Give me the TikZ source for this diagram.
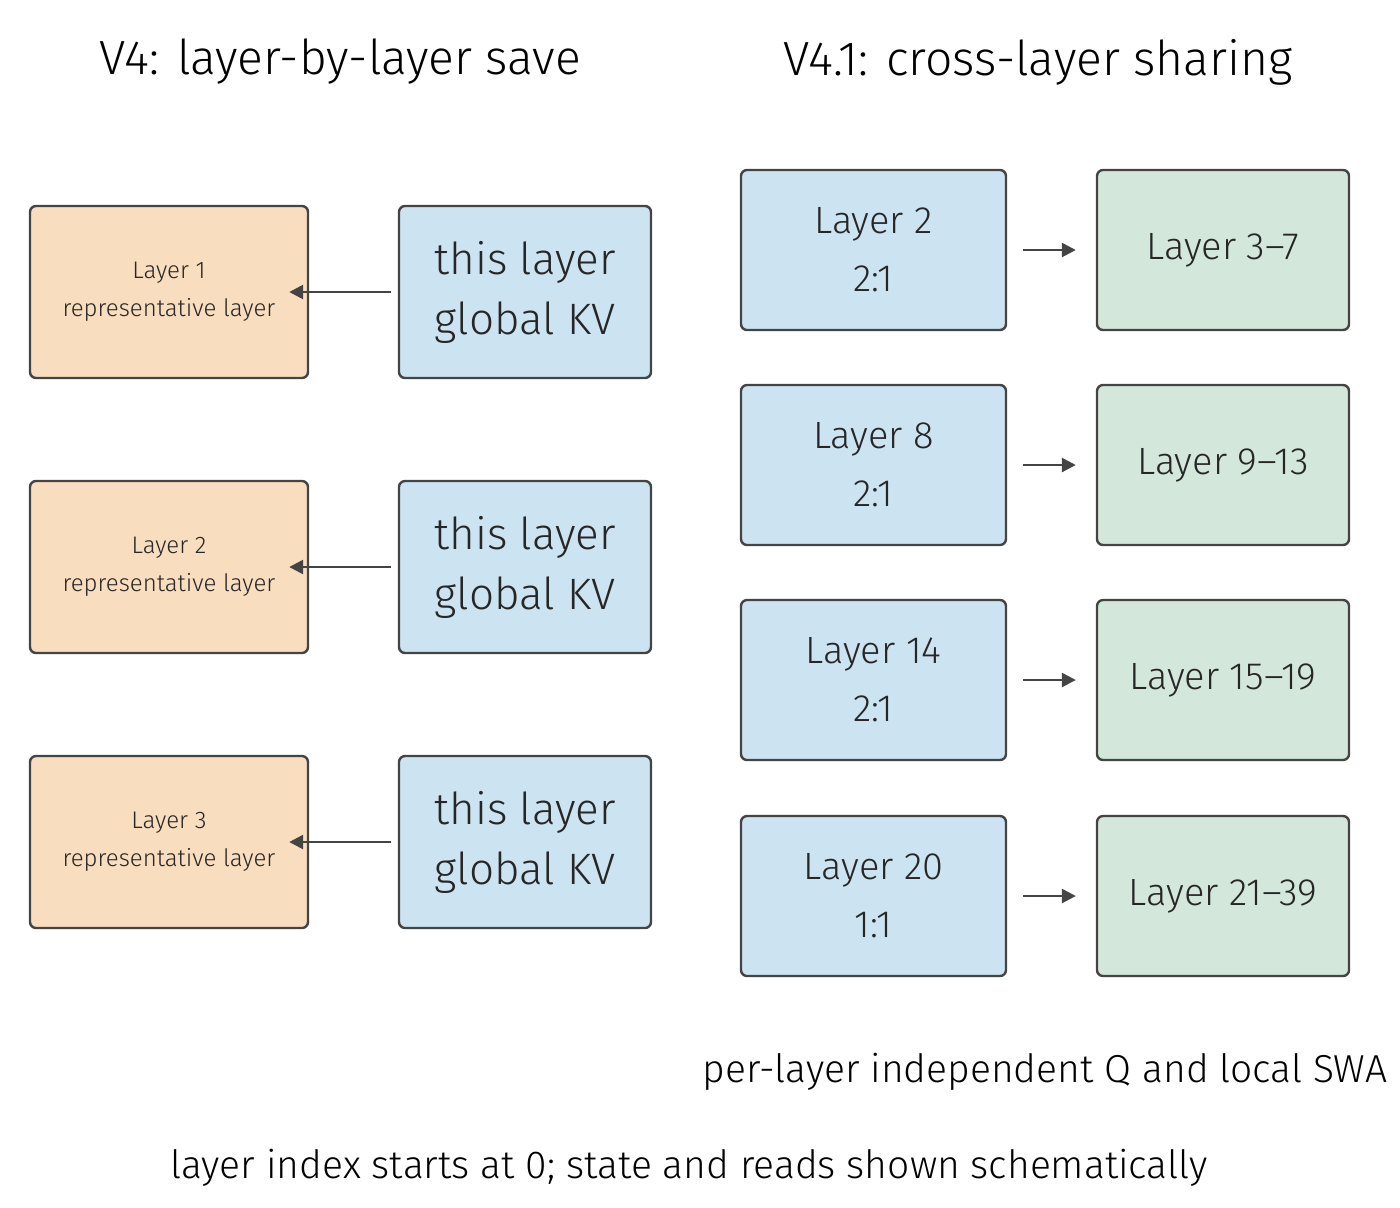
\documentclass[tikz,border=0pt]{standalone}
\usepackage{fontspec}
\setmainfont{Fira Sans}[UprightFont=* Light]
\usetikzlibrary{arrows.meta}
\definecolor{org}{HTML}{F9DDBF}
\definecolor{blu}{HTML}{CCE3F2}
\definecolor{grn}{HTML}{D3E8DB}
\definecolor{edge}{HTML}{444444}
\begin{document}
\begin{tikzpicture}[x=0.5pt,y=-0.5pt,
 box/.style={draw=edge,line width=1.2pt,rounded corners=3pt,inner sep=0pt,align=center,text=black!85},
 arr/.style={draw=edge,line width=1.3pt,-{Triangle[length=7pt,width=7pt]}}]
\useasboundingbox (0,0) rectangle (1400,1207);
\node[font=\fontsize{24}{28}\selectfont] (t1) at (340,62) {V4: layer-by-layer save};
\node[font=\fontsize{24}{28}\selectfont] (t2) at (1038,62) {V4.1: cross-layer sharing};
\foreach \i/\y in {1/206,2/481,3/756}{
 \node[box,fill=org,minimum width=139pt,minimum height=86pt,font=\fontsize{12}{19}\selectfont] (o\i) at (169,\y+86) {Layer \i\\representative layer};
 \node[box,fill=blu,minimum width=126pt,minimum height=86pt,font=\fontsize{22}{30}\selectfont] (b\i) at (525,\y+86) {this layer\\global KV};
 \draw[arr] (b\i.west)++(-7,0) -- ([xshift=-10]o\i.east);
}
\foreach \i/\y/\a/\r/\g in {1/170/2/2:1/3--7,2/385/8/2:1/9--13,3/600/14/2:1/15--19,4/816/20/1:1/21--39}{
 \node[box,fill=blu,minimum width=132.5pt,minimum height=80pt,font=\fontsize{19}{29}\selectfont] (l\i) at (873.5,\y+80) {Layer \a\\\r};
 \node[box,fill=grn,minimum width=126pt,minimum height=80pt,font=\fontsize{19}{29}\selectfont] (g\i) at (1223,\y+80) {Layer \g};
 \draw[arr] ([xshift=8]l\i.east) -- ([xshift=-10]g\i.west);
}
\node[font=\fontsize{19.5}{24}\selectfont] (n1) at (1045,1072) {per-layer independent Q and local SWA};
\node[font=\fontsize{19.5}{24}\selectfont] (n2) at (689,1168) {layer index starts at 0; state and reads shown schematically};
\end{tikzpicture}
\end{document}
